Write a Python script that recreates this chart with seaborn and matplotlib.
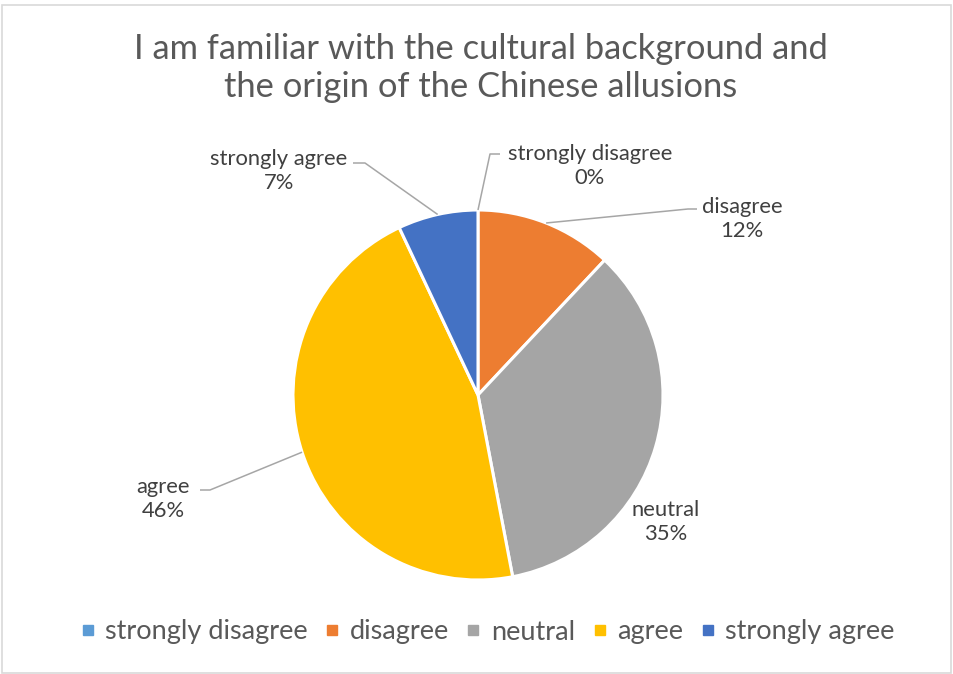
import numpy as np
import matplotlib
matplotlib.use("Agg")
import matplotlib.pyplot as plt
from matplotlib.lines import Line2D
from matplotlib.patches import Rectangle
import seaborn as sns

categories = ["strongly disagree", "disagree", "neutral", "agree", "strongly agree"]
percentages = [0, 12, 35, 46, 7]
colors = ["#5B9BD5", "#ED7D31", "#A5A5A5", "#FFC000", "#4472C4"]
title = "I am familiar with the cultural background and\nthe origin of the Chinese allusions"

sns.set_theme(style="white")
plt.rcParams["font.family"] = ["Lato", "DejaVu Sans"]

W, H = 954, 674
fig = plt.figure(figsize=(W / 100, H / 100), dpi=100)
ax = fig.add_axes([0, 0, 1, 1])

cx, cy, r = 478, H - 395, 185
wedges, _ = ax.pie(percentages, colors=colors, startangle=90, counterclock=False,
                   center=(cx, cy), radius=r, frame=True,
                   wedgeprops=dict(edgecolor="white", linewidth=2.2))
ax.set_xlim(0, W)
ax.set_ylim(0, H)
ax.set_aspect("equal")
ax.axis("off")

# label layout: (text centre in px from top-left, knee point, tail point)
layout = {
    "strongly disagree": ((590, 166), (490, 154), (500, 154)),
    "disagree": ((742, 219), (688, 209), (697, 209)),
    "neutral": ((666, 522), None, None),
    "agree": ((163, 499), (210, 490), (200, 490)),
    "strongly agree": ((279, 171), (365, 163), (353, 163)),
}

line_col = "#A6A6A6"
for w, cat, val in zip(wedges, categories, percentages):
    (tx, ty), knee, tail = layout[cat]
    if knee is not None:
        ang = np.deg2rad((w.theta1 + w.theta2) / 2)
        ex, ey = cx + r * np.cos(ang), cy + r * np.sin(ang)
        ax.plot([ex, knee[0], tail[0]], [ey, H - knee[1], H - tail[1]],
                color=line_col, lw=1.1, solid_capstyle="butt", zorder=1)
    ax.text(tx, H - ty, f"{cat}\n{val}%", ha="center", va="center",
            fontsize=15.8, color="#404040", linespacing=1.3)

fig.text(481 / W, 1 - 68 / H, title, ha="center", va="center",
         fontsize=24.8, color="#595959", linespacing=1.25)

handles = [Line2D([], [], marker="s", linestyle="none", markersize=7.5,
                  markerfacecolor=c, markeredgecolor=c) for c in colors]
fig.legend(handles, categories, loc="center", bbox_to_anchor=(487 / W, 1 - 632 / H),
           ncol=5, frameon=False, fontsize=19.5, handlelength=0.6,
           handletextpad=0.35, columnspacing=0.6, labelcolor="#595959")

fig.patches.append(Rectangle((1.5 / W, 1.5 / H), (W - 4) / W, (H - 6) / H,
                             transform=fig.transFigure, fill=False,
                             edgecolor="#D9D9D9", linewidth=1.2))

fig.savefig("out.png", dpi=100)
